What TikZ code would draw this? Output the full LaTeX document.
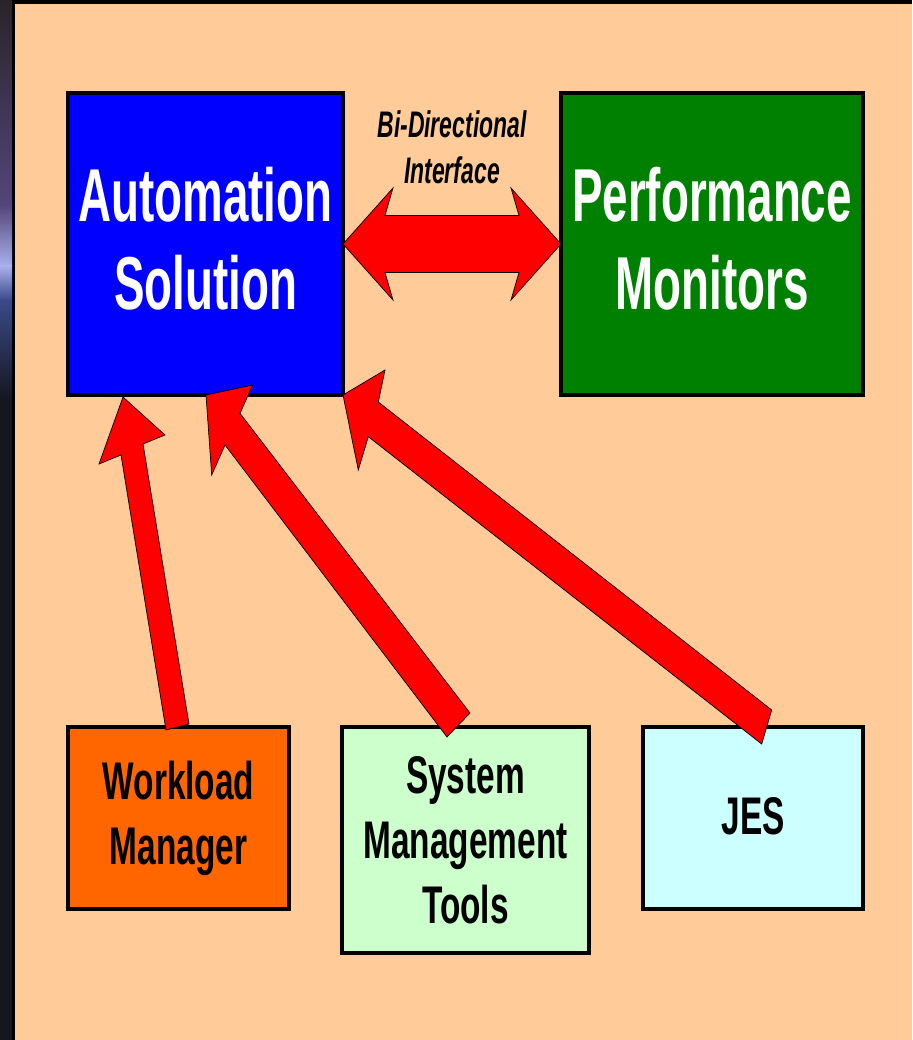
\documentclass[tikz,border=0pt]{standalone}
\usepackage{fontspec}
\usetikzlibrary{calc}
% condensed bold sans faces for the slide labels
\newfontfamily\titlefont[FakeStretch=0.61]{Liberation Sans}
\newfontfamily\labelfont[FakeStretch=0.63]{Liberation Sans}
\newfontfamily\notefont[FakeStretch=0.62]{Liberation Sans}

\definecolor{peach}{HTML}{FFCC99}
\definecolor{autoblue}{HTML}{0000FF}
\definecolor{perfgreen}{HTML}{008000}
\definecolor{wlmorange}{HTML}{FF6600}
\definecolor{smtgreen}{HTML}{CCFFCC}
\definecolor{jescyan}{HTML}{CCFFFF}
\definecolor{arrowred}{HTML}{FF0000}
\definecolor{stripdark}{HTML}{16161E}
\definecolor{striptop}{HTML}{2A2428}
\definecolor{stripmauve}{HTML}{55457A}
\definecolor{stripglow}{HTML}{A8B0EC}
\definecolor{stripblue}{HTML}{3A4A8A}

\tikzset{
  box/.style={draw=black, line width=3.5pt, inner sep=0pt, outer sep=0pt, align=center},
  bigtext/.style={font=\titlefont\bfseries\fontsize{75}{88}\selectfont, text=white},
  smalltext/.style={font=\labelfont\bfseries\fontsize{53}{65}\selectfont, text=black},
  fatarrow/.style={fill=arrowred, draw=black, line width=0.7pt, line join=miter}
}

\begin{document}
\begin{tikzpicture}[x=1pt, y=-1pt]
\useasboundingbox (0,0) rectangle (912,1040);

% frame and dark left edge
\fill[black] (0,0) rectangle (912,1040);
\shade[top color=striptop, bottom color=stripmauve] (0,0) rectangle (12,205);
\shade[top color=stripmauve, bottom color=stripglow] (0,205) rectangle (12,266);
\shade[top color=stripglow, bottom color=stripblue] (0,266) rectangle (12,300);
\shade[top color=stripblue, bottom color=stripdark] (0,300) rectangle (12,400);
\fill[stripdark] (0,400) rectangle (12,1040);
\fill[peach] (15,4) rectangle (912,1040);

% boxes
\node[box, bigtext, fill=autoblue, minimum width=275pt, minimum height=302pt] (auto)
  at (205.5,244) {Automation\\Solution\rule[-12pt]{0pt}{0pt}};
\node[box, bigtext, fill=perfgreen, minimum width=302pt, minimum height=302pt] (perf)
  at (712,244) {Performance\\Monitors\rule[-12pt]{0pt}{0pt}};
\node[box, smalltext, fill=wlmorange, minimum width=221pt, minimum height=182pt] (wlm)
  at (178.5,818) {Workload\\Manager};
\node[box, smalltext, fill=smtgreen, minimum width=247pt, minimum height=226pt] (smt)
  at (465.5,840) {System\\Management\\Tools};
\node[box, smalltext, fill=jescyan, minimum width=220pt, minimum height=182pt] (jes)
  at (753,818) {JES\rule[-5pt]{0pt}{0pt}};

% label above the two-way arrow
\node[align=center, inner sep=0pt, font=\notefont\bfseries\itshape\fontsize{37}{46}\selectfont]
  (bidir) at (452,147) {Bi-Directional\\Interface};

% two-way block arrow between the top boxes
\coordinate (L) at (auto.east);
\coordinate (R) at (perf.west);
\draw[fatarrow] (L) -- ($(L)+(50,-56)$) -- ($(L)+(42,-28.5)$) -- ($(R)+(-42,-28.5)$)
  -- ($(R)+(-50,-56)$) -- (R) -- ($(R)+(-50,56)$) -- ($(R)+(-42,28.5)$)
  -- ($(L)+(42,28.5)$) -- ($(L)+(50,56)$) -- cycle;

% Workload Manager -> Automation Solution
\coordinate (t1) at ($(auto.south west)+(55,2)$);
\draw[fatarrow] (t1) -- ($(t1)+(42,38)$) -- ($(t1)+(20,47)$)
  -- ($(wlm.north)+(10.5,-3)$) -- ($(wlm.north)+(-12.5,3)$)
  -- ($(t1)+(-2,58)$) -- ($(t1)+(-24,67)$) -- cycle;

% System Management Tools -> Automation Solution
\coordinate (t2) at ($(auto.south west)+(138,0)$);
\draw[fatarrow] (t2) -- ($(t2)+(46.7,-10)$) -- ($(t2)+(34,18.3)$)
  -- ($(smt.north)+(4.5,-14)$) -- ($(smt.north)+(-18.5,10)$)
  -- ($(t2)+(19,50)$) -- ($(t2)+(5.7,80)$) -- cycle;

% JES -> Automation Solution
\coordinate (t3) at (auto.south east);
\draw[fatarrow] (t3) -- ($(t3)+(42,-25)$) -- ($(t3)+(35.3,7)$)
  -- ($(jes.north)+(18.7,-17)$) -- ($(jes.north)+(8.7,17)$)
  -- ($(t3)+(25.3,41.7)$) -- ($(t3)+(15.3,75)$) -- cycle;
\end{tikzpicture}
\end{document}
